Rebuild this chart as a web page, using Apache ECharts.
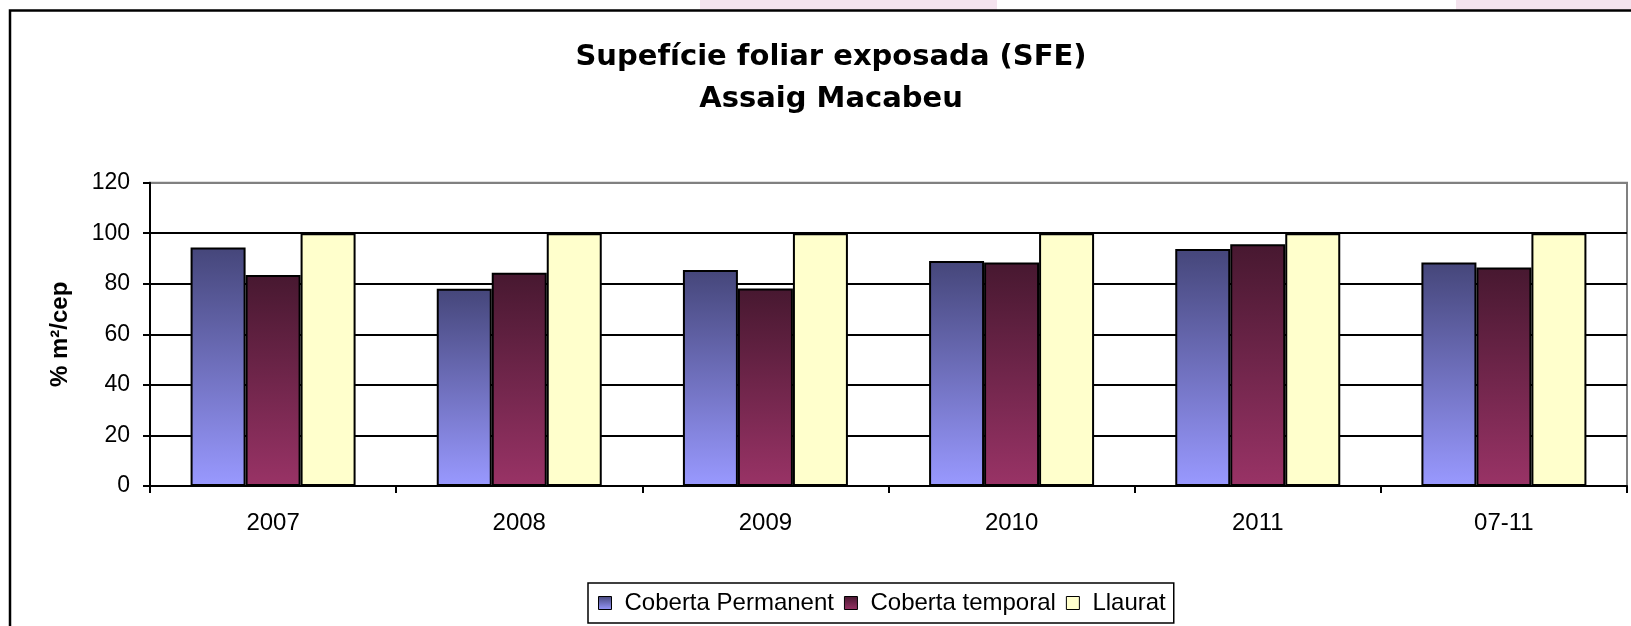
<!DOCTYPE html>
<html>
<head>
<meta charset="utf-8">
<script src="https://cdn.jsdelivr.net/npm/echarts@6/dist/echarts.min.js"></script>
<style>
  html, body { margin: 0; padding: 0; background: #fff; }
  #chart { width: 1631px; height: 626px; }
</style>
</head>
<body>
<div id="chart"></div>
<script>
const categories = ['2007', '2008', '2009', '2010', '2011', '07-11'];
const cobertaPermanent = [94.4, 78.0, 85.5, 89.0, 93.8, 88.4];
const cobertaTemporal = [83.5, 84.4, 78.1, 88.4, 95.6, 86.4];
const llaurat = [100, 100, 100, 100, 100, 100];
const seriesNames = ['Coberta Permanent', 'Coberta temporal', 'Llaurat'];
const yTicks = { min: 0, max: 120, interval: 20 };

const chart = echarts.init(document.getElementById('chart'), null, { renderer: 'canvas' });
const FONT = "'Liberation Sans', Arial, sans-serif";

const gradBlue = new echarts.graphic.LinearGradient(0, 0, 0, 1, [
  { offset: 0, color: '#45467a' }, { offset: 1, color: '#9999ff' }
]);
const gradRed = new echarts.graphic.LinearGradient(0, 0, 0, 1, [
  { offset: 0, color: '#471830' }, { offset: 1, color: '#993366' }
]);

const option = {
  backgroundColor: '#fff',
  animation: false,
  title: {
    text: 'Supefície foliar exposada (SFE)\nAssaig Macabeu',
    left: 826,
    top: 31,
    textAlign: 'center',
    textStyle: {
      fontFamily: "'DejaVu Sans', sans-serif",
      fontWeight: 'bold',
      fontSize: 29,
      lineHeight: 42,
      color: '#000'
    }
  },
  graphic: [
    { type: 'rect', z: -10, shape: { x: 700, y: 0, width: 297, height: 10 }, style: { fill: '#f4e3ee' } },
    { type: 'rect', z: -10, shape: { x: 1456, y: 0, width: 175, height: 10 }, style: { fill: '#f4e3ee' } },
    { type: 'rect', z: 100, shape: { x: 10, y: 10.5, width: 1700, height: 700 }, style: { fill: null, stroke: '#000', lineWidth: 2.5 } }
  ],
  legend: {
    data: seriesNames,
    left: 588,
    top: 583,
    orient: 'horizontal',
    itemWidth: 13,
    itemHeight: 13,
    itemGap: 10,
    padding: [8, 8, 8, 10],
    borderColor: '#000',
    borderWidth: 1.5,
    backgroundColor: '#fff',
    icon: 'rect',
    itemStyle: { borderColor: '#000', borderWidth: 1 },
    textStyle: { fontFamily: FONT, fontSize: 24, color: '#000', padding: [0, 0, 0, 8] }
  },
  grid: {
    left: 150,
    right: 4,
    top: 182.7,
    bottom: 140,
    show: true,
    borderColor: '#808080',
    borderWidth: 2,
    backgroundColor: 'transparent'
  },
  xAxis: {
    type: 'category',
    data: categories,
    axisLine: { show: true, lineStyle: { color: '#000', width: 2 } },
    axisTick: { show: true, length: 7, lineStyle: { color: '#000', width: 2 } },
    axisLabel: { fontFamily: FONT, fontSize: 24, color: '#000', margin: 25 }
  },
  yAxis: {
    type: 'value',
    min: yTicks.min,
    max: yTicks.max,
    interval: yTicks.interval,
    name: '% m²/cep',
    nameLocation: 'middle',
    nameGap: 78,
    nameRotate: 90,
    nameTextStyle: { fontFamily: FONT, fontWeight: 'bold', fontSize: 24, color: '#000' },
    axisLine: { show: true, lineStyle: { color: '#000', width: 2 } },
    axisTick: { show: true, length: 7, lineStyle: { color: '#000', width: 2 } },
    axisLabel: { fontFamily: FONT, fontSize: 23, color: '#000', margin: 20 },
    splitLine: {
      show: true,
      lineStyle: { color: ['#000', '#000', '#000', '#000', '#000', '#000', '#808080'], width: 2 }
    }
  },
  series: [
    {
      name: seriesNames[0], type: 'bar', data: cobertaPermanent,
      barWidth: 55, barGap: '0%',
      itemStyle: { color: gradBlue, borderColor: '#000', borderWidth: 2 }
    },
    {
      name: seriesNames[1], type: 'bar', data: cobertaTemporal,
      barWidth: 55, barGap: '0%',
      itemStyle: { color: gradRed, borderColor: '#000', borderWidth: 2 }
    },
    {
      name: seriesNames[2], type: 'bar', data: llaurat,
      barWidth: 55, barGap: '0%',
      itemStyle: { color: '#ffffcc', borderColor: '#000', borderWidth: 2 }
    }
  ]
};
chart.setOption(option);
</script>
</body>
</html>
